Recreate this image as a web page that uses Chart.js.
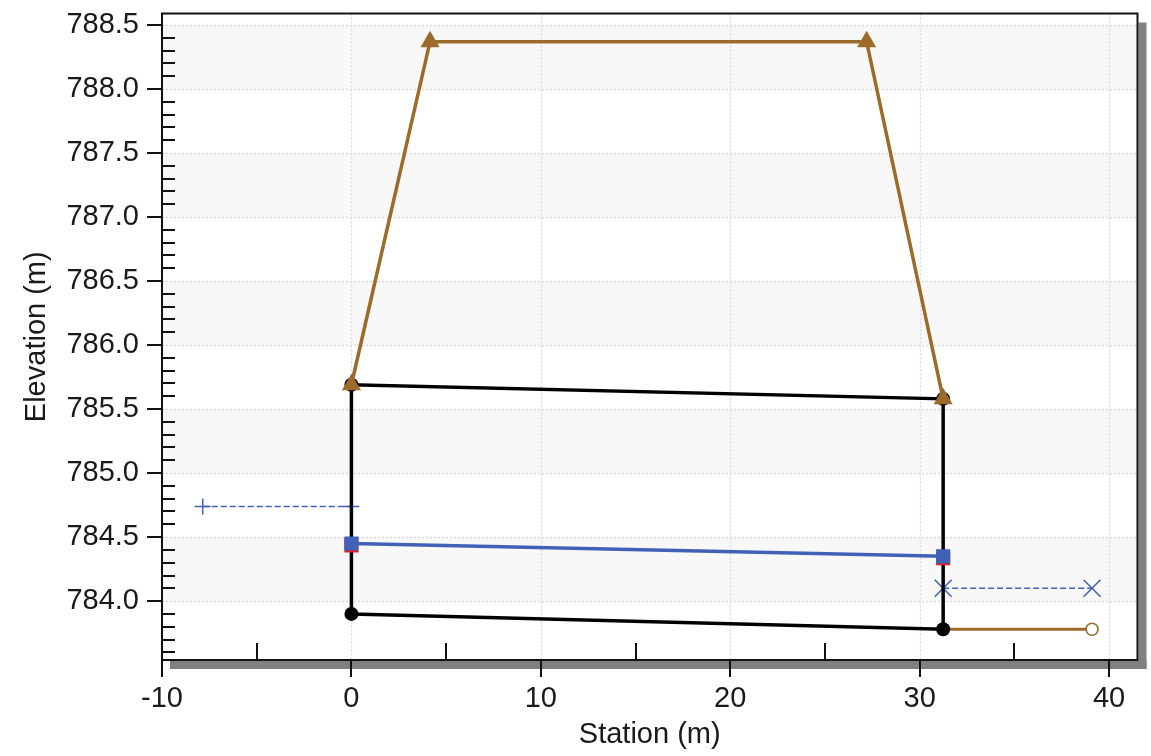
<!DOCTYPE html>
<html>
<head>
<meta charset="utf-8">
<script src="https://cdn.jsdelivr.net/npm/chart.js@4/dist/chart.umd.min.js"></script>
<style>
  html, body { margin: 0; padding: 0; background: #fff; }
  canvas { display: block; }
</style>
</head>
<body>
<canvas id="sectionChart" width="1151" height="756"></canvas>
<script>
//
// Data
var xTicks = [-10, 0, 10, 20, 30, 40];
var yTicks = [784.0, 784.5, 785.0, 785.5, 786.0, 786.5, 787.0, 787.5, 788.0, 788.5];

// road / embankment (brown, triangles)
var roadX = [0, 4.15, 27.2, 31.24];
var roadY = [785.69, 788.37, 788.37, 785.58];

// culvert box (black)
var boxX = [0, 0, 31.24, 31.24, 0];
var boxY = [783.90, 785.69, 785.58, 783.78, 783.90];

// water surface in culvert (blue squares, red underneath)
var wsX = [0, 31.24];
var wsY = [784.45, 784.35];
var wsRedY = [784.435, 784.335];

// upstream level (blue dashed, plus)
var upX = [-7.85, 0];
var upY = [784.74, 784.74];

// downstream level (blue dashed, x)
var downX = [31.24, 39.1];
var downY = [784.10, 784.10];

// outlet channel (brown, open circle)
var outX = [31.24, 39.1];
var outY = [783.78, 783.78];

var brown = '#9c6a2a';
var blue = '#4061b6';
var font = 'Liberation Sans, Arial, sans-serif';

function pts(xs, ys) {
    return xs.map(function(x, i) { return {x: x, y: ys[i]}; });
}

//
// Background bands, grid, frame, ticks and drop shadow
var frame = {
    id: 'frame',
    beforeDraw: function(chart) {
        var c = chart.ctx, a = chart.chartArea;
        c.save();
        c.fillStyle = '#fff';
        c.fillRect(0, 0, chart.width, chart.height);
        c.fillStyle = '#808080';
        c.fillRect(a.right + 1, a.top + 9, 8, a.bottom - a.top);
        c.fillRect(a.left + 8, a.bottom + 1, a.right - a.left + 1, 8);
        c.restore();
    },
    beforeDatasetsDraw: function(chart) {
        var c = chart.ctx, a = chart.chartArea;
        var xs = chart.scales.x, ys = chart.scales.y;
        c.save();
        c.beginPath();
        c.rect(a.left, a.top, a.right - a.left, a.bottom - a.top);
        c.clip();
        // gray bands on every other half metre
        c.fillStyle = '#f8f8f8';
        for (var i = 0; i < yTicks.length - 1; i += 2) {
            var y1 = ys.getPixelForValue(yTicks[i + 1]);
            var y0 = ys.getPixelForValue(yTicks[i]);
            c.fillRect(a.left, y1, a.right - a.left, y0 - y1);
        }
        // dotted grid
        c.strokeStyle = '#dadada';
        c.lineWidth = 1.5;
        c.setLineDash([2, 2]);
        yTicks.forEach(function(v) {
            var y = Math.round(ys.getPixelForValue(v)) + 0.5;
            c.beginPath(); c.moveTo(a.left, y); c.lineTo(a.right, y); c.stroke();
        });
        xTicks.forEach(function(v) {
            var x = Math.round(xs.getPixelForValue(v)) + 0.5;
            c.beginPath(); c.moveTo(x, a.top); c.lineTo(x, a.bottom); c.stroke();
        });
        c.restore();
    },
    afterDatasetsDraw: function(chart) {
        var c = chart.ctx, a = chart.chartArea;
        var xs = chart.scales.x, ys = chart.scales.y;
        c.save();
        c.strokeStyle = '#111';
        c.lineWidth = 2;
        c.strokeRect(a.left, a.top, a.right - a.left, a.bottom - a.top);
        // y ticks: major outside, minor inside
        yTicks.forEach(function(v) {
            var y = Math.round(ys.getPixelForValue(v));
            c.beginPath(); c.moveTo(a.left - 15, y); c.lineTo(a.left, y); c.stroke();
        });
        for (var m = 783.6; m < ys.max; m += 0.1) {
            var mv = Math.round(m * 10) / 10;
            if (Math.abs(mv * 2 - Math.round(mv * 2)) < 1e-6) continue;
            var my = Math.round(ys.getPixelForValue(mv));
            c.beginPath(); c.moveTo(a.left, my); c.lineTo(a.left + 13, my); c.stroke();
        }
        // x ticks: major outside, minor inside
        xTicks.forEach(function(v) {
            var x = Math.round(xs.getPixelForValue(v));
            c.beginPath(); c.moveTo(x, a.bottom); c.lineTo(x, a.bottom + 17); c.stroke();
            if (v + 5 < xs.max) {
                var x5 = Math.round(xs.getPixelForValue(v + 5));
                c.beginPath(); c.moveTo(x5, a.bottom); c.lineTo(x5, a.bottom - 17); c.stroke();
            }
        });
        c.restore();
    }
};

var ctx = document.getElementById('sectionChart').getContext('2d');
new Chart(ctx, {
    type: 'scatter',
    data: {
        datasets: [{
            data: pts(wsX, wsY),
            showLine: true,
            borderColor: blue,
            backgroundColor: blue,
            borderWidth: 3.5,
            pointStyle: 'rect',
            pointRadius: 10,
            pointBorderWidth: 0,
            order: 1
        }, {
            data: pts(wsX, wsRedY),
            showLine: false,
            backgroundColor: '#e02020',
            pointStyle: 'rect',
            pointRadius: 10,
            pointBorderWidth: 0,
            order: 2
        }, {
            data: pts(roadX, roadY),
            showLine: true,
            borderColor: brown,
            backgroundColor: brown,
            borderWidth: 3.5,
            pointStyle: 'triangle',
            pointRadius: 11,
            pointBorderWidth: 0,
            order: 3
        }, {
            data: pts(boxX, boxY),
            showLine: true,
            borderColor: '#000',
            backgroundColor: '#000',
            borderWidth: 3.5,
            pointStyle: 'circle',
            pointRadius: [7, 7, 7, 7, 0],
            pointBorderWidth: 0,
            order: 4
        }, {
            data: pts(outX, outY),
            showLine: true,
            borderColor: brown,
            backgroundColor: '#fff',
            borderWidth: 3,
            pointStyle: 'circle',
            pointRadius: [0, 6],
            pointBorderWidth: 1.5,
            order: 5
        }, {
            data: pts(upX, upY),
            showLine: true,
            borderColor: blue,
            backgroundColor: blue,
            borderWidth: 1.5,
            borderDash: [6, 3],
            pointStyle: 'cross',
            pointRadius: 8,
            pointBorderWidth: 1.5,
            order: 6
        }, {
            data: pts(downX, downY),
            showLine: true,
            borderColor: blue,
            backgroundColor: blue,
            borderWidth: 1.5,
            borderDash: [6, 3],
            pointStyle: 'crossRot',
            pointRadius: 12,
            pointBorderWidth: 1.5,
            order: 7
        }]
    },
    options: {
        responsive: false,
        animation: false,
        devicePixelRatio: 1,
        layout: { padding: { top: 11, right: 12, left: 0, bottom: 0 } },
        plugins: {
            legend: { display: false },
            tooltip: { enabled: false }
        },
        scales: {
            x: {
                type: 'linear',
                min: -10,
                max: 41.5,
                afterBuildTicks: function(scale) {
                    scale.ticks = xTicks.map(function(v) { return {value: v}; });
                },
                afterFit: function(scale) {
                    scale.height = 96;
                    scale.paddingLeft = 0;
                    scale.paddingRight = 0;
                },
                grid: { display: false, drawTicks: false },
                border: { display: false },
                ticks: {
                    padding: 22,
                    color: '#1a1a1a',
                    font: { family: font, size: 29 },
                    maxRotation: 0,
                    callback: function(v) { return String(v); }
                },
                title: {
                    display: true,
                    text: 'Station (m)',
                    color: '#1a1a1a',
                    font: { family: font, size: 29 },
                    padding: { top: 0, bottom: 4 }
                }
            },
            y: {
                type: 'linear',
                min: 783.54,
                max: 788.59,
                afterBuildTicks: function(scale) {
                    scale.ticks = yTicks.map(function(v) { return {value: v}; });
                },
                afterFit: function(scale) {
                    scale.width = 162;
                    scale.paddingTop = 0;
                    scale.paddingBottom = 0;
                },
                grid: { display: false, drawTicks: false },
                border: { display: false },
                ticks: {
                    padding: 23,
                    color: '#1a1a1a',
                    font: { family: font, size: 29 },
                    callback: function(v) { return v.toFixed(1); }
                },
                title: {
                    display: true,
                    text: 'Elevation (m)',
                    color: '#1a1a1a',
                    font: { family: font, size: 29 },
                    padding: { top: 20, bottom: 0 }
                }
            }
        }
    },
    plugins: [frame]
});
</script>
</body>
</html>
